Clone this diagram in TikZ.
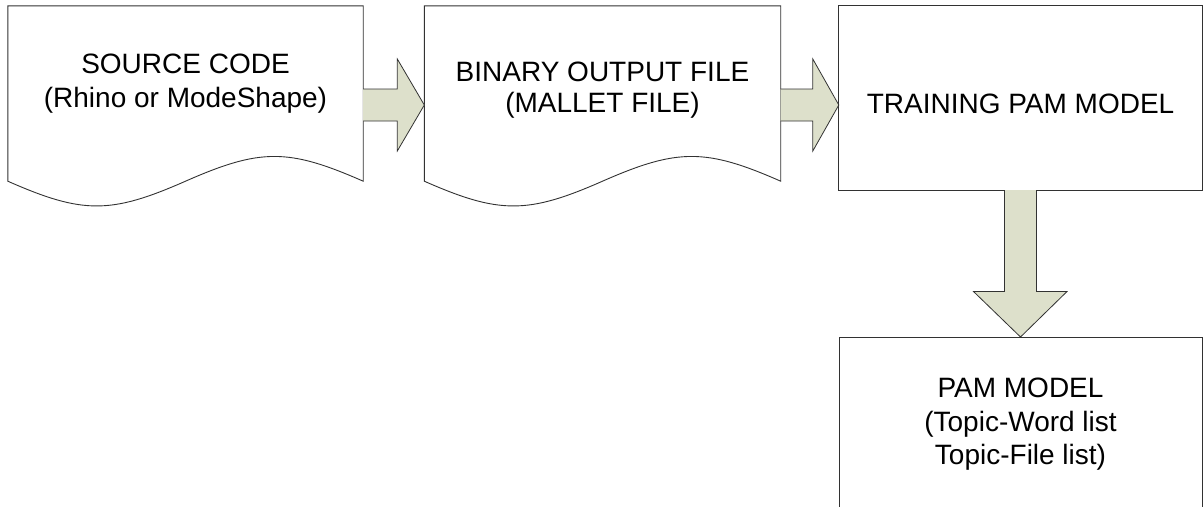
\documentclass[tikz,border=0pt]{standalone}
\usepackage{fontspec}
\setmainfont{Liberation Sans}
\usetikzlibrary{calc}
\definecolor{arrowfill}{RGB}{221,224,203}
\definecolor{edgecol}{RGB}{50,50,50}
\tikzset{
  frame/.style={draw=edgecol, line width=0.9pt, fill=white},
  holder/.style={draw=none, inner sep=0pt, minimum width=#1},
  txt/.style={anchor=base, inner sep=0pt, font=\fontsize{28}{33}\selectfont},
  blockarrow/.style={draw=edgecol, line width=0.8pt, fill=arrowfill, line join=miter}
}
\begin{document}
\begin{tikzpicture}[x=1pt, y=-1pt]
\useasboundingbox (0,0) rectangle (1204,506);
% holders (named anchors for the shapes)
\node[holder=355pt, minimum height=175pt] (src) at (185.5,93.5) {};
\node[holder=356pt, minimum height=175pt] (bin) at (602.5,93.5) {};
\node[holder=363pt, minimum height=184pt] (train) at (1020.5,98) {};
\coordinate (pamtop) at (1020.5,337);
% document shapes
\draw[frame] (src.south west) -- (src.north west) -- (src.north east) -- (src.south east)
  .. controls ($(src.south east)+(-75,-33)$) and ($(src.south)+(75,-33)$) .. (src.south)
  .. controls ($(src.south)+(-75,33)$) and ($(src.south west)+(75,33)$) .. cycle;
\draw[frame] (bin.south west) -- (bin.north west) -- (bin.north east) -- (bin.south east)
  .. controls ($(bin.south east)+(-75,-33)$) and ($(bin.south)+(75,-33)$) .. (bin.south)
  .. controls ($(bin.south)+(-75,33)$) and ($(bin.south west)+(75,33)$) .. cycle;
% rectangles
\draw[frame] (train.north west) rectangle (train.south east);
\draw[frame] ($(pamtop)+(-181.5,0)$) rectangle ($(pamtop)+(181.5,200)$);
% texts
\node[txt] (t1a) at (185.5,73) {SOURCE CODE};
\node[txt] (t1b) at (185.5,107) {(Rhino or ModeShape)};
\node[txt] (t2a) at (602.5,81) {BINARY OUTPUT FILE};
\node[txt] (t2b) at (602.5,112) {(MALLET FILE)};
\node[txt] (t3a) at (1020.5,113) {TRAINING PAM MODEL};
\node[txt] (t4a) at (1020.5,397) {PAM MODEL};
\node[txt] (t4b) at (1020.5,431) {(Topic-Word list};
\node[txt] (t4c) at (1020.5,464) {Topic-File list)};
% block arrows
\coordinate (a1s) at (src.east |- 0,105);
\coordinate (a1e) at (bin.west |- 0,105);
\draw[blockarrow] ($(a1s)+(0,-16)$) -- ($(a1e)+(-27,-16)$) -- ($(a1e)+(-27,-46)$) -- (a1e)
  -- ($(a1e)+(-27,46)$) -- ($(a1e)+(-27,16)$) -- ($(a1s)+(0,16)$);
\coordinate (a2s) at (bin.east |- 0,105);
\coordinate (a2e) at (train.west |- 0,105);
\draw[blockarrow] ($(a2s)+(0,-16)$) -- ($(a2e)+(-26,-16)$) -- ($(a2e)+(-26,-46)$) -- (a2e)
  -- ($(a2e)+(-26,46)$) -- ($(a2e)+(-26,16)$) -- ($(a2s)+(0,16)$);
\draw[blockarrow] ($(train.south)+(-16,0)$) -- ($(pamtop)+(-16,-45.5)$) -- ($(pamtop)+(-47,-45.5)$) -- (pamtop)
  -- ($(pamtop)+(46.5,-45.5)$) -- ($(pamtop)+(16,-45.5)$) -- ($(train.south)+(16,0)$);
\end{tikzpicture}
\end{document}
